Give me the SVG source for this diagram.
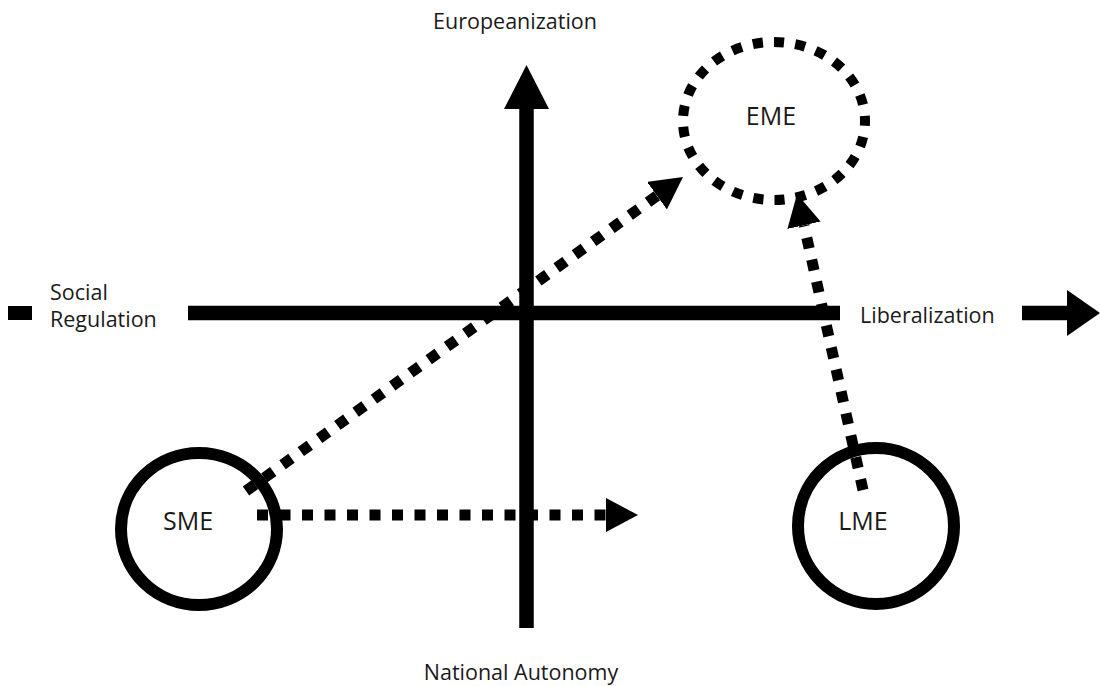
<svg xmlns="http://www.w3.org/2000/svg" width="1100" height="686" viewBox="0 0 1100 686">
  <defs>
    <style>
      .lbl { font-family: "Open Sans", "Liberation Sans", sans-serif; font-size: 21.5px; fill: #1a1a1a; }
      .node-lbl { font-family: "Open Sans", "Liberation Sans", sans-serif; font-size: 25px; fill: #1a1a1a; text-anchor: middle; }
      .axis { stroke: #000; stroke-width: 14.5; fill: none; }
      .solid-node { stroke: #000; stroke-width: 12; fill: none; }
      .dash-node { stroke: #000; stroke-width: 10; fill: none; stroke-dasharray: 10 11; }
      .conn { stroke: #000; stroke-width: 11; fill: none; stroke-dasharray: 11 11.5; }
    </style>
    <marker id="ah" markerUnits="userSpaceOnUse" markerWidth="34" markerHeight="36" refX="0" refY="17" orient="auto" viewBox="0 0 34 36">
      <path d="M0,0 L32,17 L0,34 Z" fill="#000"/>
    </marker>
  </defs>
  <rect width="1100" height="686" fill="#fff"/>

  <g id="axes">
    <rect x="8" y="306" width="24" height="14" fill="#000"/>
    <line class="axis" x1="188" y1="313" x2="840" y2="313"/>
    <line class="axis" x1="1022" y1="313" x2="1069" y2="313"/>
    <polygon points="1067,290 1100,313 1067,336" fill="#000"/>
    <line class="axis" x1="526.5" y1="628" x2="526.5" y2="106"/>
    <polygon points="504,109 526.5,65 549,109" fill="#000"/>
  </g>

  <g id="axis-labels">
    <text class="lbl" x="515" y="29" text-anchor="middle">Europeanization</text>
    <text class="lbl" x="521" y="680" text-anchor="middle">National Autonomy</text>
    <text class="lbl" x="50" y="300">Social</text>
    <text class="lbl" x="50" y="327">Regulation</text>
    <text class="lbl" x="860" y="323">Liberalization</text>
  </g>

  <g id="connectors">
    <path class="conn" d="M246,491 L657,195.7" marker-end="url(#ah)"/>
    <path class="conn" d="M863,490 L804,225.2" marker-end="url(#ah)"/>
    <path class="conn" d="M257,515 L606,515" marker-end="url(#ah)"/>
  </g>

  <g id="node-eme">
    <path class="dash-node" pathLength="525" d="M774,42 A91,79 0 0 1 774,200 A91,79 0 0 1 774,42 Z"/>
    <text class="node-lbl" x="771" y="125">EME</text>
  </g>

  <g id="node-sme">
    <ellipse class="solid-node" cx="199" cy="529" rx="78" ry="76"/>
    <text class="node-lbl" x="188" y="530">SME</text>
  </g>

  <g id="node-lme">
    <circle class="solid-node" cx="876" cy="526" r="78"/>
    <text class="node-lbl" x="863" y="530">LME</text>
  </g>
</svg>
